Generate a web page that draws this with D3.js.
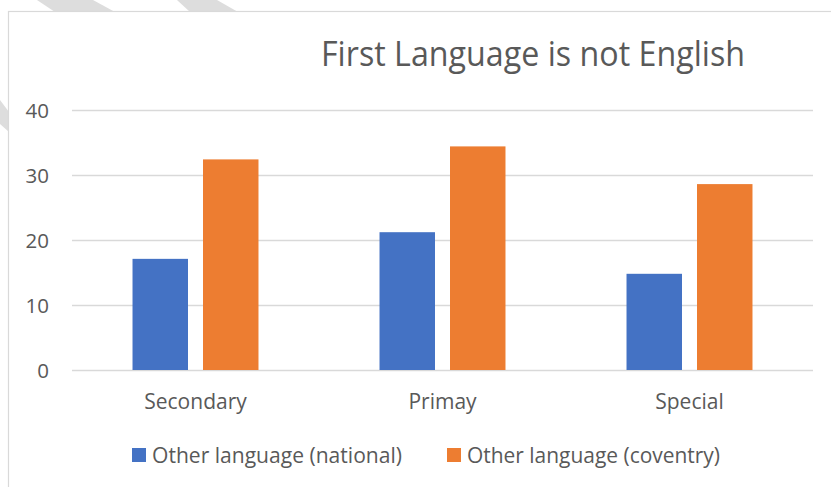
<!DOCTYPE html>
<html>
<head>
<meta charset="utf-8">
<script src="https://cdn.jsdelivr.net/npm/d3@7/dist/d3.min.js"></script>
<style>
  html, body { margin: 0; padding: 0; background: #ffffff; }
  svg { display: block; }
  text { font-family: "Open Sans", "Noto Sans", sans-serif; fill: #595959; }
</style>
</head>
<body>
<svg id="chart" width="831" height="487"></svg>
<script>
// Chart data
const categories = ["Secondary", "Primay", "Special"];
const seriesNames = ["Other language (national)", "Other language (coventry)"];
const nationalValues = [17.1, 21.2, 14.8];
const coventryValues = [32.4, 34.4, 28.6];
const yTicks = [0, 10, 20, 30, 40];
const titleText = "First Language is not English";

const colors = ["#4472C4", "#ED7D31"];
const seriesValues = [nationalValues, coventryValues];

const svg = d3.select("#chart");
const W = 831, H = 487;

// Squeeze a text node to a given width so the narrow face is imitated
function fitWidth(sel, width) {
  sel.attr("textLength", width).attr("lengthAdjust", "spacingAndGlyphs");
}

// Decorative page stripes behind the chart frame
const stripes = [
  [[37, 0], [93, 0], [115, 12], [55, 12]],
  [[177, 0], [217, 0], [238, 12], [190, 12]],
  [[0, 100], [9, 112], [9, 132], [0, 124]]
];
svg.append("g").selectAll("polygon").data(stripes).join("polygon")
  .attr("points", d => d.map(p => p.join(",")).join(" "))
  .attr("fill", "#dddddd");

// Chart frame
svg.append("rect")
  .attr("x", 8.5).attr("y", 11.5)
  .attr("width", W + 10).attr("height", H + 10)
  .attr("fill", "#ffffff")
  .attr("stroke", "#d9d9d9").attr("stroke-width", 1.2);

// Plot area
const plot = { left: 72, right: 813, top: 110, bottom: 370 };

const x0 = d3.scaleBand()
  .domain(categories)
  .range([plot.left, plot.right])
  .paddingInner(0.49)
  .paddingOuter(0.245);

const x1 = d3.scaleBand()
  .domain(d3.range(seriesNames.length))
  .range([0, x0.bandwidth()])
  .paddingInner(0.213)
  .paddingOuter(0);

const y = d3.scaleLinear()
  .domain([0, 40])
  .range([plot.bottom, plot.top]);

// Gridlines and value labels
const yAxis = d3.axisLeft(y)
  .tickValues(yTicks)
  .tickSize(-(plot.right - plot.left))
  .tickPadding(23)
  .tickFormat(d3.format("d"));

const yg = svg.append("g")
  .attr("transform", `translate(${plot.left},0)`)
  .call(yAxis);
yg.select(".domain").remove();
yg.selectAll(".tick line")
  .attr("stroke", "#d9d9d9")
  .attr("stroke-width", 1.5);
yg.selectAll(".tick text")
  .style("font-size", "20.5px")
  .attr("fill", "#595959")
  .attr("dy", "0.36em");

// Bars
const groups = svg.append("g").selectAll("g")
  .data(categories)
  .join("g")
  .attr("transform", d => `translate(${x0(d)},0)`);

groups.selectAll("rect")
  .data((d, i) => seriesValues.map((vals, s) => ({ s, v: vals[i] })))
  .join("rect")
  .attr("x", d => x1(d.s))
  .attr("width", x1.bandwidth())
  .attr("y", d => y(d.v))
  .attr("height", d => y(0) - y(d.v))
  .attr("fill", d => colors[d.s]);

// Category axis labels
const xAxis = d3.axisBottom(x0).tickSize(0).tickPadding(24);
const xg = svg.append("g")
  .attr("transform", `translate(0,${plot.bottom})`)
  .call(xAxis);
xg.select(".domain").remove();
xg.selectAll(".tick text")
  .style("font-size", "21px")
  .attr("fill", "#595959");

// Title
svg.append("text")
  .attr("x", 533).attr("y", 66)
  .attr("text-anchor", "middle")
  .style("font-size", "34px")
  .text(titleText)
  .call(fitWidth, 424);

// Legend
const legendItems = [
  { name: seriesNames[0], color: colors[0], x: 132, w: 250 },
  { name: seriesNames[1], color: colors[1], x: 447, w: 253 }
];
const lg = svg.append("g").selectAll("g").data(legendItems).join("g")
  .attr("transform", d => `translate(${d.x},448)`);
lg.append("rect")
  .attr("width", 14).attr("height", 14)
  .attr("fill", d => d.color);
lg.append("text")
  .attr("x", 20).attr("y", 7)
  .attr("dy", "0.36em")
  .style("font-size", "21px")
  .text(d => d.name)
  .each(function(d) { d3.select(this).call(fitWidth, d.w); });
</script>
</body>
</html>
